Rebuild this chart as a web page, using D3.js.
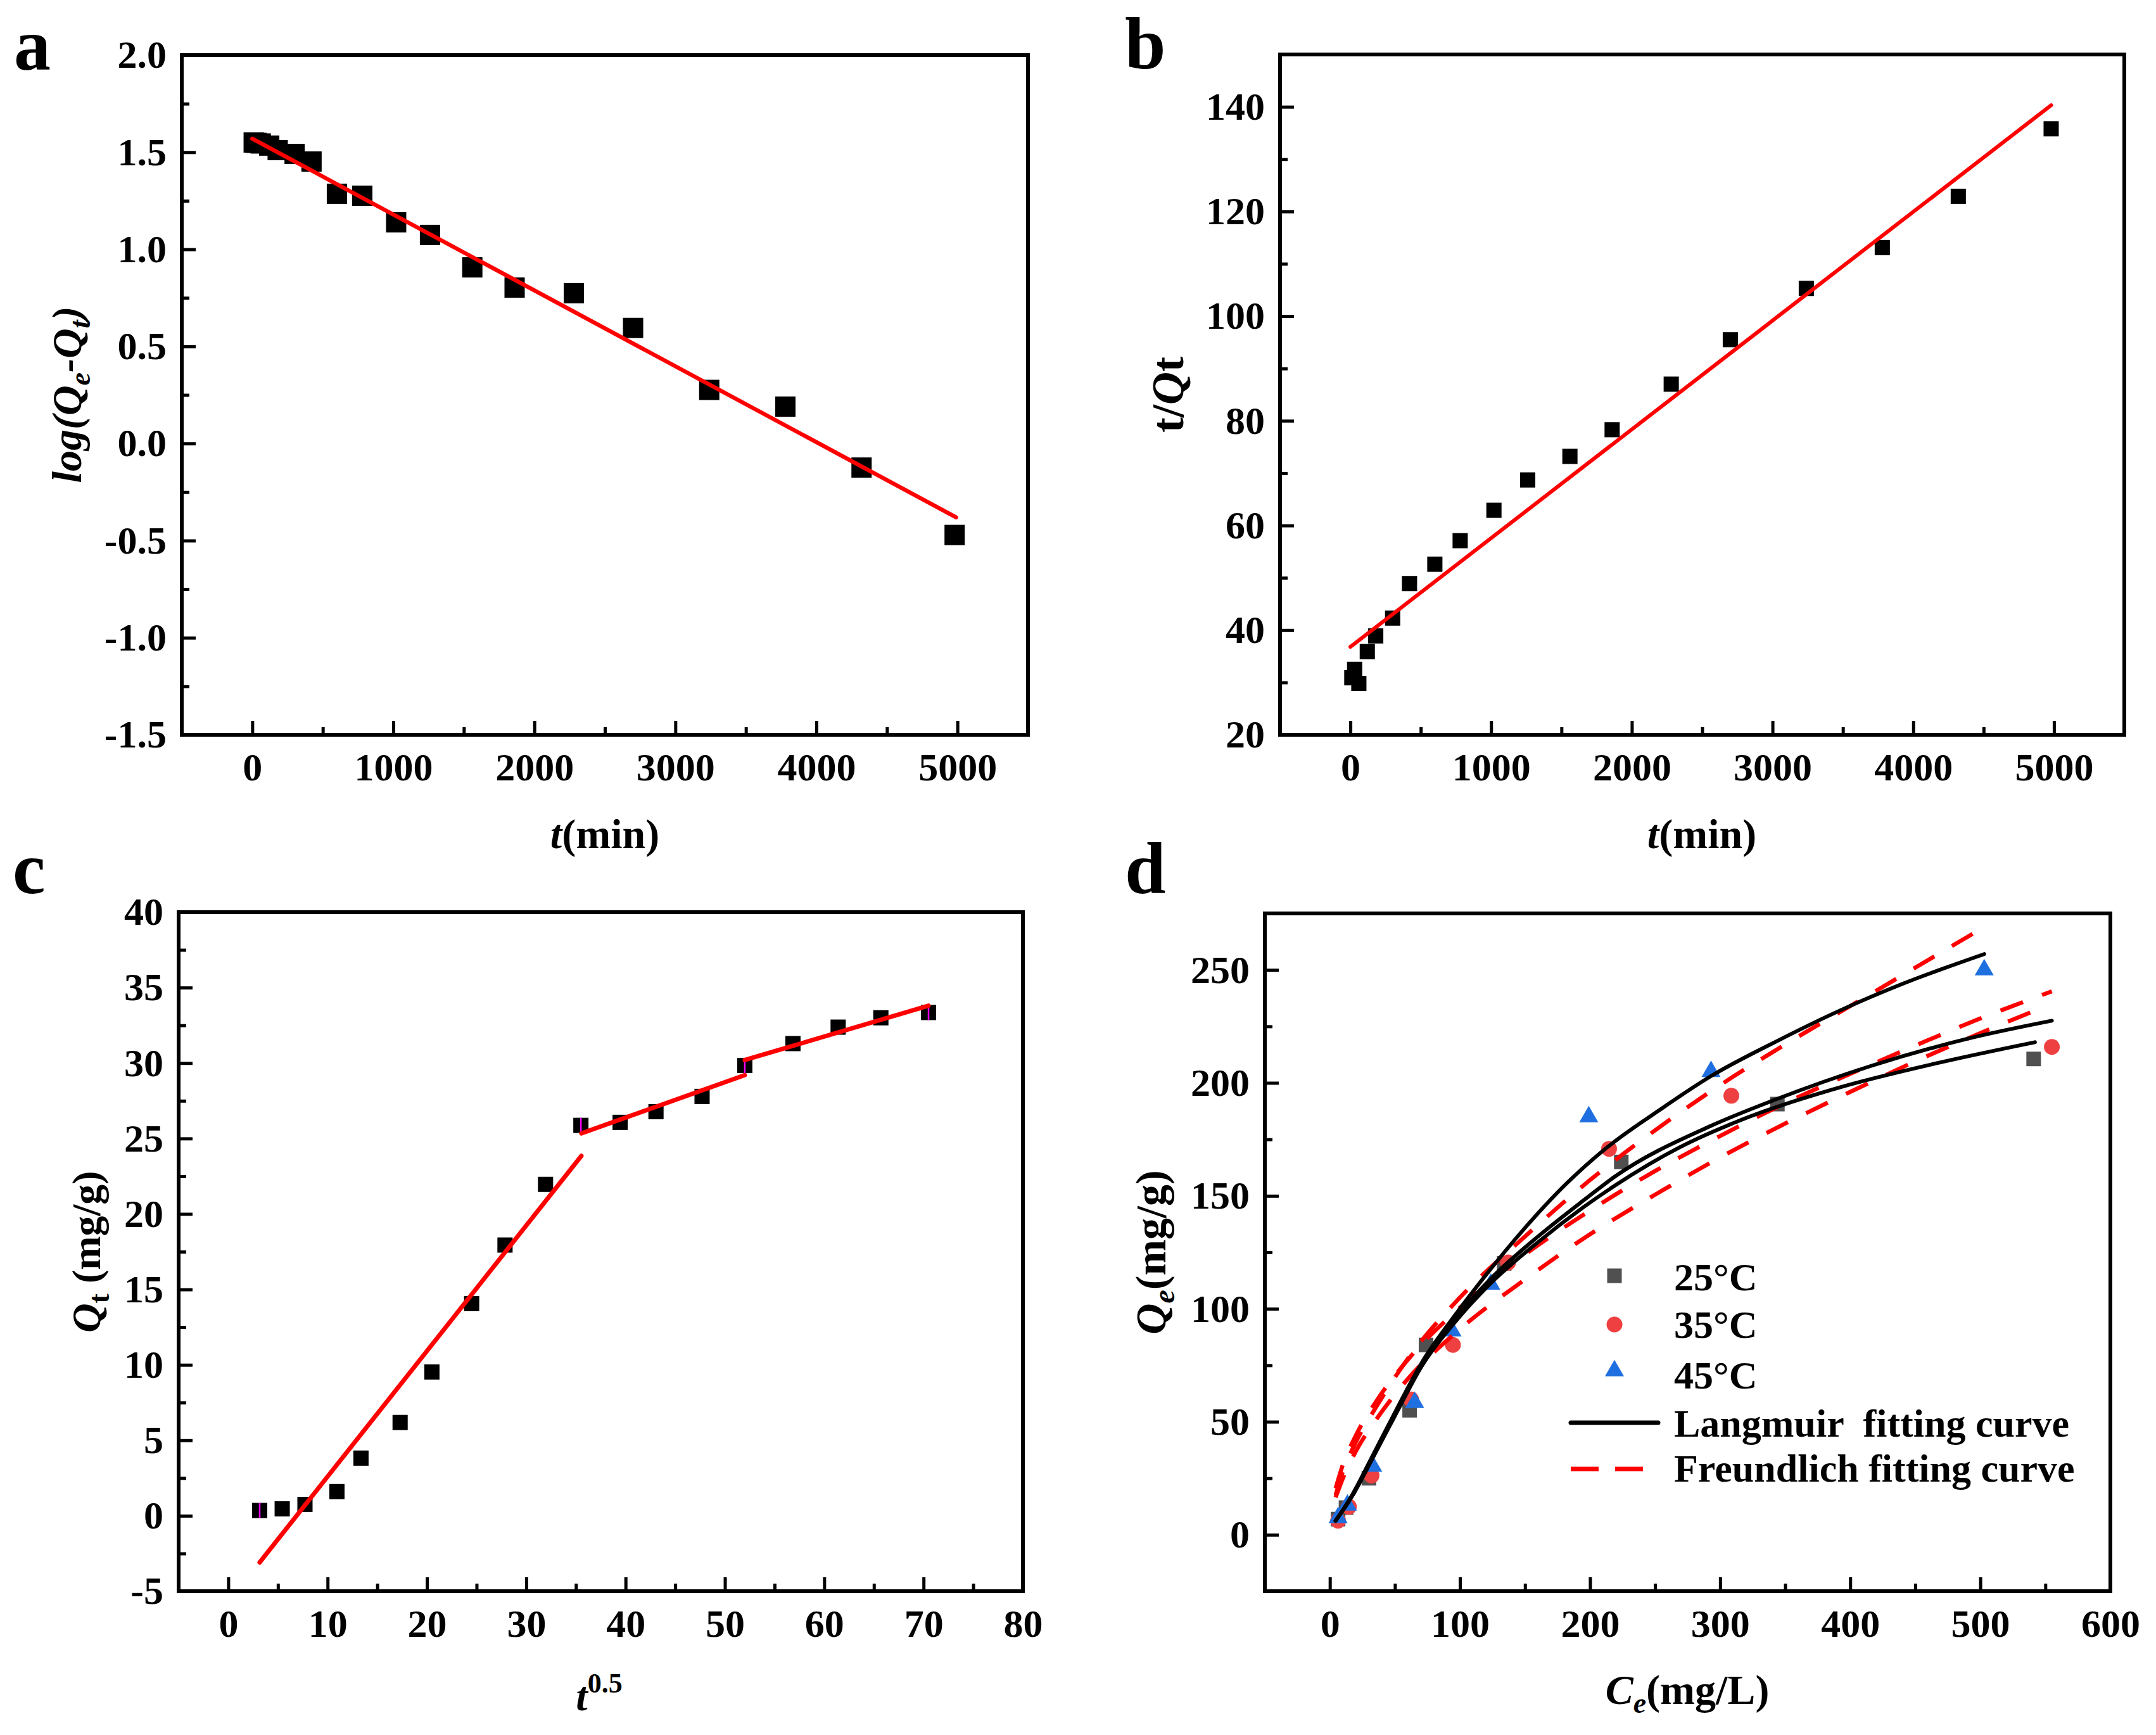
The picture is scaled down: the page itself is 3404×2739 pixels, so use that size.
<!DOCTYPE html>
<html>
<head>
<meta charset="utf-8">
<script src="https://cdn.jsdelivr.net/npm/d3@7"></script>
<style>
  body { margin: 0; background: #fff; }
  svg text { font-family: "Liberation Serif", "Times New Roman", serif; font-weight: bold; fill: #000; }
</style>
</head>
<body>
<script>
// ---- data ----
const tMin = [10, 30, 60, 120, 180, 300, 420, 600, 780, 1020, 1260, 1560, 1860, 2280, 2700, 3240, 3780, 4320, 4980];
const logQeQt = [1.55, 1.548, 1.545, 1.534, 1.511, 1.491, 1.452, 1.286, 1.276, 1.139, 1.074, 0.907, 0.803, 0.774, 0.595, 0.276, 0.19, -0.124, -0.471];
const tOverQt = [30.9, 32.5, 29.8, 35.9, 38.9, 42.3, 48.9, 52.6, 57.1, 62.9, 68.7, 73.2, 78.3, 87.0, 95.5, 105.3, 113.1, 122.9, 135.8];
const fitPFO = [[0, 1.57], [4990, -0.38]];
const fitPSO = [[0, 36.8], [4980, 140.3]];

const sqrtT = [3.16, 5.43, 7.72, 10.94, 13.36, 17.3, 20.5, 24.5, 27.86, 31.94, 35.5, 39.45, 43.06, 47.7, 52.0, 56.85, 61.4, 65.7, 70.5];
const qt = [0.35, 0.46, 0.75, 1.6, 3.82, 6.18, 9.53, 14.06, 17.94, 21.96, 25.87, 26.07, 26.78, 27.79, 29.84, 31.29, 32.38, 33.0, 33.35];
const ipdFits = [
  [[3.16, -3.09], [35.55, 23.85]],
  [[35.55, 25.34], [52.0, 29.2]],
  [[52.0, 30.2], [70.5, 33.8]]
];
const qtErr = [[3.16, 0.35, 0.5], [35.5, 25.87, 0.5], [52.0, 29.84, 0.5], [70.5, 33.35, 0.5]];

const ce25 = [6.3, 12.4, 30, 61.3, 73.9, 134, 224, 344, 541];
const qe25 = [6.9, 12, 25, 55.1, 84, 120.1, 165, 190.6, 210.6];
const ce35 = [6.3, 14.6, 32, 62.4, 94.6, 137, 214.6, 308.6, 555];
const qe35 = [6.2, 12.4, 26.2, 59.9, 84, 120.5, 170.8, 194.3, 215.9];
const ce45 = [6.3, 13.5, 33, 65.2, 93.9, 123.7, 199, 293, 503];
const qe45 = [7.6, 13.1, 30.3, 58.5, 90.2, 110.9, 185, 205, 250];

const lang25 = [[4.4, 6.2], [17, 17], [32, 33], [49, 51.5], [71, 75], [96, 94], [124, 111.5], [160, 129.5], [195, 145], [219, 154.5], [269, 171.5], [318, 184], [392, 198], [465, 208.5], [542, 218]];
const lang35 = [[4.4, 6.2], [17, 17], [32, 33], [49, 52], [71, 76], [96, 95.5], [124, 113.5], [160, 132], [195, 148], [219, 158.5], [293, 181], [342, 192.5], [416, 207.5], [490, 219.5], [555, 227.5]];
const lang45 = [[4.4, 6.2], [17, 17.5], [32, 34], [49, 53], [71, 76.5], [96, 97], [120, 115], [148, 134.5], [182, 155.5], [210, 170], [256, 189], [293, 203], [342, 218], [392, 232], [441, 244], [503, 257]];
const freu25 = [[4.4, 16.5], [10, 25], [20, 37], [35, 50.5], [60, 69], [100, 91], [150, 113], [200, 133], [250, 150.5], [300, 167], [350, 182], [400, 196], [450, 209.5], [500, 222], [542, 232]];
const freu35 = [[4.4, 20.5], [10, 31], [20, 44], [35, 58.5], [60, 77.5], [100, 100.5], [150, 124], [200, 143.5], [250, 161], [300, 176.5], [350, 191], [400, 204], [450, 216.5], [500, 228.5], [555, 240.5]];
const freu45 = [[4.4, 17.5], [10, 28], [20, 41], [35, 56], [60, 78], [100, 105], [150, 132], [200, 157], [250, 179], [300, 199], [350, 217], [400, 234], [450, 251], [503, 269]];
const legendLabels = ["25\u00B0C", "35\u00B0C", "45\u00B0C", "Langmuir  fitting curve", "Freundlich fitting curve"];

// ---- tick values ----
const timeTicks = [0, 1000, 2000, 3000, 4000, 5000];
const timeMinor = [500, 1500, 2500, 3500, 4500];
const aYTicks = [-1.5, -1.0, -0.5, 0.0, 0.5, 1.0, 1.5, 2.0];
const aYMinor = [-1.25, -0.75, -0.25, 0.25, 0.75, 1.25, 1.75];
const bYTicks = [20, 40, 60, 80, 100, 120, 140];
const bYMinor = [30, 50, 70, 90, 110, 130];
const cXTicks = [0, 10, 20, 30, 40, 50, 60, 70, 80];
const cXMinor = [5, 15, 25, 35, 45, 55, 65, 75];
const cYTicks = [-5, 0, 5, 10, 15, 20, 25, 30, 35, 40];
const cYMinor = [-2.5, 2.5, 7.5, 12.5, 17.5, 22.5, 27.5, 32.5, 37.5];
const dXTicks = [0, 100, 200, 300, 400, 500, 600];
const dXMinor = [50, 150, 250, 350, 450, 550];
const dYTicks = [0, 50, 100, 150, 200, 250];
const dYMinor = [25, 75, 125, 175, 225];

const W = 3404, H = 2739;
const RED = "#ff0000";

const svg = d3.select("body").append("svg").attr("width", W).attr("height", H);
svg.append("rect").attr("width", W).attr("height", H).attr("fill", "#fff");

function styleAxis(sel) {
  sel.select(".domain").remove();
  sel.attr("font-size", 62).attr("font-family", null);
  sel.selectAll(".tick line").attr("stroke", "#000").attr("stroke-width", 5);
}

function makePanel(o) {
  const x = d3.scaleLinear().domain(o.xDomain).range([o.left, o.right]);
  const y = d3.scaleLinear().domain(o.yDomain).range([o.bottom, o.top]);
  const g = svg.append("g");

  g.append("g").attr("transform", `translate(0,${o.bottom})`)
    .call(d3.axisBottom(x).tickValues(o.xMinor).tickSize(-12).tickFormat(""))
    .call(styleAxis);
  g.append("g").attr("transform", `translate(0,${o.bottom})`)
    .call(d3.axisBottom(x).tickValues(o.xTicks).tickSize(-22).tickPadding(28).tickFormat(o.xFmt))
    .call(styleAxis);
  g.append("g").attr("transform", `translate(${o.left},0)`)
    .call(d3.axisLeft(y).tickValues(o.yMinor).tickSize(-12).tickFormat(""))
    .call(styleAxis);
  g.append("g").attr("transform", `translate(${o.left},0)`)
    .call(d3.axisLeft(y).tickValues(o.yTicks).tickSize(-22).tickPadding(24).tickFormat(o.yFmt))
    .call(styleAxis);

  g.append("rect")
    .attr("x", o.left).attr("y", o.top)
    .attr("width", o.right - o.left).attr("height", o.bottom - o.top)
    .attr("fill", "none").attr("stroke", "#000").attr("stroke-width", 6);

  // panel letter
  svg.append("text").attr("x", o.letterX).attr("y", o.letterY)
    .attr("font-size", 116).text(o.letter);

  return { g, x, y };
}

const intFmt = d => String(d);
const oneDec = d => d.toFixed(1);

function squares(g, x, y, xs, ys, size, color) {
  g.append("g").selectAll("rect").data(xs).join("rect")
    .attr("x", (d, i) => x(d) - size / 2)
    .attr("y", (d, i) => y(ys[i]) - size / 2)
    .attr("width", size).attr("height", size)
    .attr("fill", color);
}

function straight(g, x, y, pts, w) {
  g.append("path").datum(pts)
    .attr("d", d3.line().x(d => x(d[0])).y(d => y(d[1])))
    .attr("fill", "none").attr("stroke", RED).attr("stroke-width", w)
    .attr("stroke-linecap", "round");
}

// ---------- panel a ----------
const pa = makePanel({
  left: 287, right: 1623, top: 87, bottom: 1160,
  xDomain: [-500, 5500], yDomain: [-1.5, 2.0],
  xTicks: timeTicks, xMinor: timeMinor, yTicks: aYTicks, yMinor: aYMinor,
  xFmt: intFmt, yFmt: oneDec, letter: "a", letterX: 22, letterY: 110
});
squares(pa.g, pa.x, pa.y, tMin, logQeQt, 32, "#000");
straight(pa.g, pa.x, pa.y, fitPFO, 6.5);

// ---------- panel b ----------
const pb = makePanel({
  left: 2021, right: 3354, top: 86, bottom: 1160,
  xDomain: [-500, 5500], yDomain: [20, 150],
  xTicks: timeTicks, xMinor: timeMinor, yTicks: bYTicks, yMinor: bYMinor,
  xFmt: intFmt, yFmt: intFmt, letter: "b", letterX: 1776, letterY: 108
});
squares(pb.g, pb.x, pb.y, tMin, tOverQt, 24, "#000");
straight(pb.g, pb.x, pb.y, fitPSO, 6);

// ---------- panel c ----------
const pc = makePanel({
  left: 282, right: 1615, top: 1440, bottom: 2512,
  xDomain: [-5, 80], yDomain: [-5, 40],
  xTicks: cXTicks, xMinor: cXMinor, yTicks: cYTicks, yMinor: cYMinor,
  xFmt: intFmt, yFmt: intFmt, letter: "c", letterX: 20, letterY: 1410
});
squares(pc.g, pc.x, pc.y, sqrtT, qt, 24, "#000");
pc.g.append("g").selectAll("line").data(qtErr).join("line")
  .attr("x1", d => pc.x(d[0])).attr("x2", d => pc.x(d[0]))
  .attr("y1", d => pc.y(d[1] - d[2])).attr("y2", d => pc.y(d[1] + d[2]))
  .attr("stroke", "#ff00ff").attr("stroke-width", 2.5);
ipdFits.forEach(seg => straight(pc.g, pc.x, pc.y, seg, 7));

// ---------- panel d ----------
const pd = makePanel({
  left: 1997, right: 3332, top: 1442, bottom: 2512,
  xDomain: [-50, 600], yDomain: [-25, 275],
  xTicks: dXTicks, xMinor: dXMinor, yTicks: dYTicks, yMinor: dYMinor,
  xFmt: intFmt, yFmt: intFmt, letter: "d", letterX: 1776, letterY: 1410
});
const GRAY = "#505050", PINK = "#ee4040", BLUE = "#1f6fe0";
const triangle = d3.symbol().type(d3.symbolTriangle).size(390);
const circle = d3.symbol().type(d3.symbolCircle).size(490);

squares(pd.g, pd.x, pd.y, ce25, qe25, 23, GRAY);
pd.g.append("g").selectAll("path").data(ce35).join("path")
  .attr("d", circle)
  .attr("transform", (d, i) => `translate(${pd.x(d)},${pd.y(qe35[i])})`)
  .attr("fill", PINK);
pd.g.append("g").selectAll("path").data(ce45).join("path")
  .attr("d", triangle)
  .attr("transform", (d, i) => `translate(${pd.x(d)},${pd.y(qe45[i])})`)
  .attr("fill", BLUE);

const curve = d3.line().x(d => pd.x(d[0])).y(d => pd.y(d[1])).curve(d3.curveMonotoneX);
[freu25, freu35, freu45].forEach(c => {
  pd.g.append("path").datum(c).attr("d", curve)
    .attr("fill", "none").attr("stroke", RED).attr("stroke-width", 6.5)
    .attr("stroke-dasharray", "38,32");
});
[lang25, lang35, lang45].forEach(c => {
  pd.g.append("path").datum(c).attr("d", curve)
    .attr("fill", "none").attr("stroke", "#000").attr("stroke-width", 6)
    .attr("stroke-linecap", "round");
});

// legend
const lg = svg.append("g").attr("font-size", 62);
const legY = [2014, 2091, 2164, 2246, 2319];
const legBase = [2037, 2112, 2192, 2268, 2339];
lg.append("rect").attr("x", 2549 - 11.5).attr("y", legY[0] - 11.5).attr("width", 23).attr("height", 23).attr("fill", GRAY);
lg.append("path").attr("d", circle).attr("transform", `translate(2549,${legY[1]})`).attr("fill", PINK);
lg.append("path").attr("d", triangle).attr("transform", `translate(2549,${legY[2]})`).attr("fill", BLUE);
lg.append("line").attr("x1", 2480).attr("x2", 2618).attr("y1", legY[3]).attr("y2", legY[3])
  .attr("stroke", "#000").attr("stroke-width", 7).attr("stroke-linecap", "round");
lg.append("line").attr("x1", 2480).attr("x2", 2598).attr("y1", legY[4]).attr("y2", legY[4])
  .attr("stroke", RED).attr("stroke-width", 7).attr("stroke-dasharray", "44,26");
lg.selectAll("text").data(legendLabels).join("text")
  .attr("x", 2643).attr("y", (d, i) => legBase[i])
  .style("white-space", "pre")
  .text(d => d);

// ---- axis titles ----
function yTitle(x, y, size) {
  return svg.append("text").attr("text-anchor", "middle").attr("font-size", size)
    .attr("transform", `translate(${x},${y}) rotate(-90)`);
}
function xTitle(x, y, size) {
  return svg.append("text").attr("text-anchor", "middle").attr("font-size", size)
    .attr("x", x).attr("y", y);
}

// a
let t = yTitle(128, 623, 66).attr("font-style", "italic");
t.append("tspan").text("log(Q");
t.append("tspan").attr("font-size", 46).attr("dy", 14).text("e");
t.append("tspan").attr("dy", -14).text("-Q");
t.append("tspan").attr("font-size", 46).attr("dy", 14).text("t");
t.append("tspan").attr("dy", -14).text(")");
t = xTitle(955, 1339, 66);
t.append("tspan").attr("font-style", "italic").text("t");
t.append("tspan").text("(min)");

// b
t = yTitle(1868, 623, 72);
t.append("tspan").text("t/");
t.append("tspan").attr("font-style", "italic").text("Q");
t.append("tspan").text("t");
t = xTitle(2687, 1339, 66);
t.append("tspan").attr("font-style", "italic").text("t");
t.append("tspan").text("(min)");

// c
t = yTitle(158, 1976, 64);
t.append("tspan").attr("font-style", "italic").text("Q");
t.append("tspan").attr("font-size", 46).attr("dy", 14).text("t");
t.append("tspan").attr("dy", -14).text(" (mg/g)");
t = xTitle(946, 2700, 66);
t.append("tspan").attr("font-style", "italic").text("t");
t.append("tspan").attr("font-size", 44).attr("dy", -28).text("0.5");

// d
t = yTitle(1840, 1977, 68);
t.append("tspan").attr("font-style", "italic").text("Q");
t.append("tspan").attr("font-style", "italic").attr("font-size", 48).attr("dy", 14).text("e");
t.append("tspan").attr("dy", -14).text("(mg/g)");
t = xTitle(2664, 2690, 66);
t.append("tspan").attr("font-style", "italic").text("C");
t.append("tspan").attr("font-style", "italic").attr("font-size", 46).attr("dy", 14).text("e");
t.append("tspan").attr("dy", -14).text("(mg/L)");
</script>
</body>
</html>
